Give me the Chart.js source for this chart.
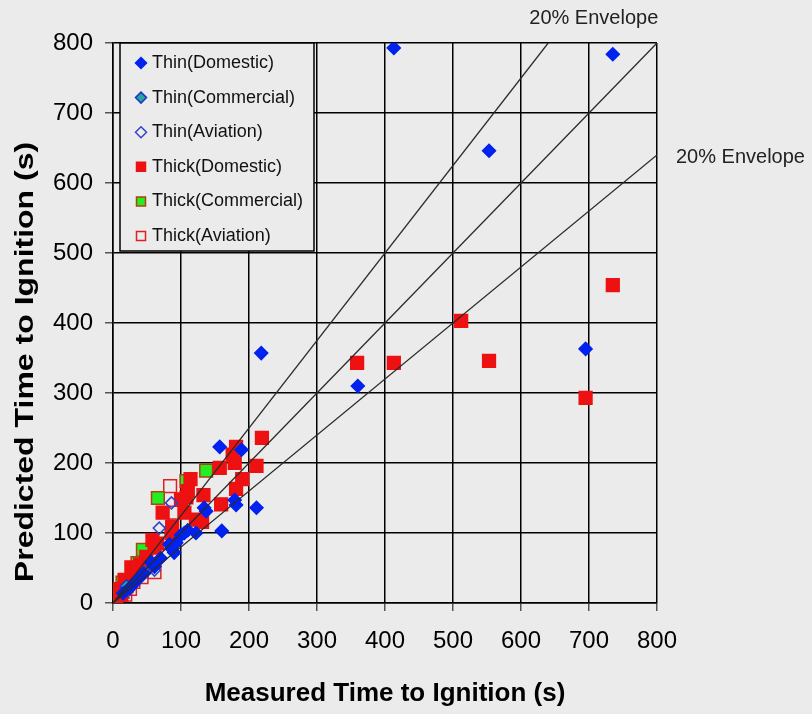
<!DOCTYPE html>
<html>
<head>
<meta charset="utf-8">
<script src="https://cdn.jsdelivr.net/npm/chart.js@4"></script>
<style>
  html, body { margin: 0; padding: 0; background: #ebebeb; }
  #wrap { width: 812px; height: 714px; }
</style>
</head>
<body>
<div id="wrap"><canvas id="chart" width="812" height="714"></canvas></div>
<script>
// Data: [measured, predicted] in seconds
const thinDomestic = [
  [413, 793], [735, 784], [553, 646], [218, 357], [360, 310], [695, 363],
  [157, 223], [189, 219], [179, 147], [181, 140], [211, 136], [134, 136],
  [137, 131], [160, 103], [122, 100], [105, 100], [100, 97], [83, 84],
  [86, 78], [90, 72], [93, 86], [110, 104], [56, 58], [61, 52], [70, 64],
  [45, 42], [35, 32], [25, 22], [15, 14]
];
const thinCommercial = [[20, 24], [32, 30]];
const thinAviation = [[86, 143], [68, 107], [61, 47], [48, 44], [30, 27], [22, 18]];
const thickDomestic = [
  [735, 454], [512, 403], [359, 343], [413, 343], [553, 346], [695, 293],
  [219, 236], [181, 223], [176, 212], [157, 193], [179, 200], [211, 196],
  [190, 177], [181, 163], [114, 177], [110, 160], [108, 151], [100, 148],
  [133, 154], [159, 141], [73, 129], [105, 129], [122, 119], [131, 116],
  [87, 109], [86, 100], [90, 95], [58, 90], [65, 85], [61, 79], [49, 66],
  [40, 55], [27, 51], [35, 45], [29, 40], [17, 33], [22, 30], [17, 21],
  [10, 20], [7, 14], [12, 12], [5, 8]
];
const thickCommercial = [[137, 189], [108, 174], [66, 150], [44, 76], [36, 57], [14, 29], [14, 16], [20, 24]];
const thickAviation = [[84, 167], [90, 129], [61, 44], [42, 37], [30, 30], [25, 20], [18, 12]];

// envelope lines: 1:1, +20% and -20%
const lineEqual = [[0, 0], [800, 800]];
const lineUpper = [[0, 0], [640, 800]];
const lineLower = [[0, 0], [800, 640]];

const axisTicks = [0, 100, 200, 300, 400, 500, 600, 700, 800];
const envelopeLabel = '20% Envelope';
const yTitle = 'Predicted Time to Ignition (s)';
const xTitle = 'Measured Time to Ignition (s)';

const FONT = "'Liberation Sans', Arial, sans-serif";
const BG = '#ebebeb';

const toXY = arr => arr.map(p => ({ x: p[0], y: p[1] }));

function pointSet(label, data, style, fill, stroke, radius) {
    return {
        label: label,
        data: toXY(data),
        pointStyle: style,
        pointRadius: radius,
        pointBackgroundColor: fill,
        pointBorderColor: stroke,
        pointBorderWidth: 1.5,
        order: 2
    };
}

function envelope(data) {
    return {
        label: '',
        data: toXY(data),
        showLine: true,
        pointRadius: 0,
        borderColor: '#2a2a2a',
        borderWidth: 1.3,
        fill: false,
        order: 1,
        isLine: true
    };
}

// Background fill
const bgPlugin = {
    id: 'bg',
    beforeDraw(chart) {
        const c = chart.ctx;
        c.save();
        c.fillStyle = BG;
        c.fillRect(0, 0, chart.width, chart.height);
        c.restore();
    }
};

// Legend box inside the plot, envelope labels and the (narrow) y title
const overlayPlugin = {
    id: 'overlay',
    afterDraw(chart) {
        const c = chart.ctx;
        const area = chart.chartArea;
        const xs = chart.scales.x;
        const ys = chart.scales.y;

        // y title - the source picture is squeezed sideways, so the rotated text is thin
        c.save();
        c.translate(26, 362);
        c.rotate(-Math.PI / 2);
        c.scale(1, 0.8);
        c.fillStyle = '#000';
        c.font = 'bold 32px ' + FONT;
        c.textAlign = 'center';
        c.textBaseline = 'middle';
        c.fillText(yTitle, 0, 0);
        c.restore();

        // envelope labels
        c.save();
        c.fillStyle = '#222';
        c.font = '20px ' + FONT;
        c.textBaseline = 'middle';
        c.textAlign = 'center';
        c.fillText(envelopeLabel, xs.getPixelForValue(707), area.top - 25);
        c.textAlign = 'left';
        c.fillText(envelopeLabel, area.right + 19, ys.getPixelForValue(637));
        c.restore();

        // legend
        const bx = area.left + 7, by = area.top, bw = 194, bh = 208;
        c.save();
        c.fillStyle = BG;
        c.fillRect(bx, by, bw, bh);
        c.strokeStyle = '#000';
        c.lineWidth = 1.5;
        c.strokeRect(bx, by, bw, bh);
        c.font = '18px ' + FONT;
        c.textBaseline = 'middle';
        c.textAlign = 'left';
        const items = chart.data.datasets.filter(d => !d.isLine);
        items.forEach((d, i) => {
            const cy = by + 20 + i * 34.6;
            const cx = bx + 21;
            c.fillStyle = d.pointBackgroundColor;
            c.strokeStyle = d.pointBorderColor;
            c.lineWidth = 1.5;
            c.beginPath();
            if (d.pointStyle === 'rectRot') {
                const r = 5.5;
                c.moveTo(cx, cy - r);
                c.lineTo(cx + r, cy);
                c.lineTo(cx, cy + r);
                c.lineTo(cx - r, cy);
                c.closePath();
            } else {
                c.rect(cx - 4.5, cy - 4.5, 9, 9);
            }
            c.fill();
            c.stroke();
            c.fillStyle = '#111';
            c.fillText(d.label, bx + 32, cy);
        });
        c.restore();
    }
};

const ctx = document.getElementById('chart');
const chart = new Chart(ctx, {
    type: 'scatter',
    data: {
        datasets: [
            pointSet('Thin(Domestic)', thinDomestic, 'rectRot', '#0022ee', '#0022ee', 6.5),
            pointSet('Thin(Commercial)', thinCommercial, 'rectRot', '#22aa99', '#2233cc', 6.5),
            pointSet('Thin(Aviation)', thinAviation, 'rectRot', 'rgba(0,0,0,0)', '#3344cc', 6),
            pointSet('Thick(Domestic)', thickDomestic, 'rect', '#ee1111', '#ee1111', 9),
            pointSet('Thick(Commercial)', thickCommercial, 'rect', '#22ee22', '#aa4411', 9),
            pointSet('Thick(Aviation)', thickAviation, 'rect', 'rgba(0,0,0,0)', '#dd2222', 9),
            envelope(lineEqual),
            envelope(lineUpper),
            envelope(lineLower)
        ]
    },
    options: {
        responsive: false,
        animation: false,
        devicePixelRatio: 1,
        layout: { padding: { top: 43, right: 155, left: 0, bottom: 0 } },
        plugins: {
            legend: { display: false },
            tooltip: { enabled: false }
        },
        scales: {
            x: {
                type: 'linear',
                min: 0,
                max: 800,
                afterBuildTicks: s => { s.ticks = axisTicks.map(v => ({ value: v })); },
                afterFit: s => { s.height = 111; },
                ticks: {
                    color: '#000',
                    font: { family: FONT, size: 24 },
                    padding: 16,
                    maxRotation: 0,
                    autoSkip: false
                },
                grid: { color: '#000', lineWidth: 1.5, tickLength: 8, tickColor: '#555' },
                border: { color: '#000', width: 1.5 },
                title: {
                    display: true,
                    text: xTitle,
                    color: '#000',
                    font: { family: FONT, size: 26, weight: 'bold' },
                    padding: { top: 0, bottom: 5 }
                }
            },
            y: {
                type: 'linear',
                min: 0,
                max: 800,
                afterBuildTicks: s => { s.ticks = axisTicks.map(v => ({ value: v })); },
                afterFit: s => { s.width = 113; },
                ticks: {
                    color: '#000',
                    font: { family: FONT, size: 24 },
                    padding: 12,
                    autoSkip: false
                },
                grid: { color: '#000', lineWidth: 1.5, tickLength: 8, tickColor: '#555' },
                border: { color: '#000', width: 1.5 },
                title: { display: false }
            }
        }
    },
    plugins: [bgPlugin, overlayPlugin]
});
</script>
</body>
</html>
